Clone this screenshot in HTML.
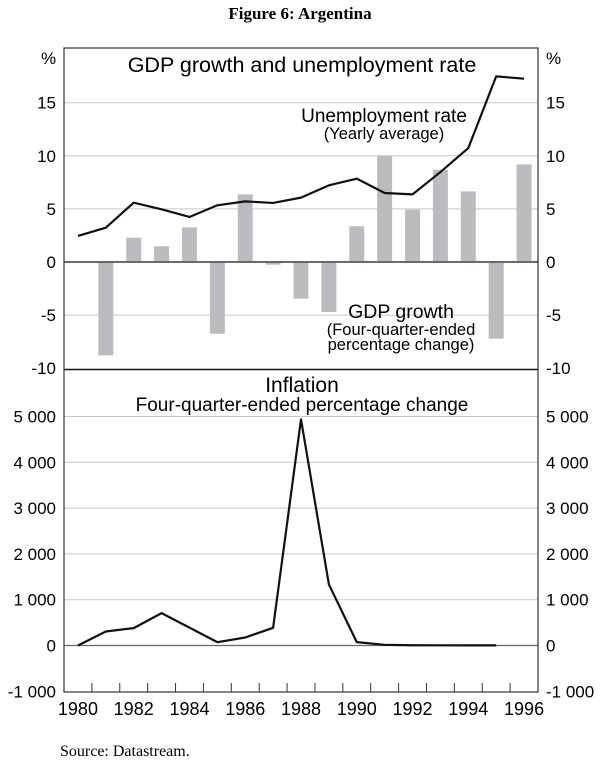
<!DOCTYPE html>
<html><head><meta charset="utf-8"><style>
body{margin:0;background:#fff;}
svg{display:block;font-family:"Liberation Sans",Arial,sans-serif;}
</style></head><body>
<svg id="c" width="600" height="760" viewBox="0 0 600 760">
<text x="300" y="19" text-anchor="middle" font-family="Liberation Serif,serif" font-weight="bold" font-size="17">Figure 6: Argentina</text>
<text x="60" y="756" font-family="Liberation Serif,serif" font-size="16">Source: Datastream.</text>
<g id="g"></g>
</svg>
<script>
const years=[1980,1981,1982,1983,1984,1985,1986,1987,1988,1989,1990,1991,1992,1993,1994,1995,1996];
const unemployment=[2.45,3.23,5.59,4.96,4.24,5.34,5.71,5.56,6.06,7.22,7.85,6.5,6.37,8.47,10.73,17.48,17.26];
const gdpYears=[1981,1982,1983,1984,1985,1986,1987,1988,1989,1990,1991,1992,1993,1994,1995,1996];
const gdpGrowth=[-8.79,2.29,1.48,3.26,-6.75,6.37,-0.25,-3.45,-4.71,3.36,9.98,4.93,8.69,6.65,-7.22,9.2];
const inflYears=[1980,1981,1982,1983,1984,1985,1986,1987,1988,1989,1990,1991,1992,1993,1994,1995];
const inflation=[0,306,380,707,390,73,175,387,4938,1335,73,15,5,4,3,2];
const topTicks=[15,10,5,0,-5,-10];
const botTicks=[5000,4000,3000,2000,1000,0,-1000];
const botTickLabels=["5 000","4 000","3 000","2 000","1 000","0","-1 000"];
const xLabels=[1980,1982,1984,1986,1988,1990,1992,1994,1996];

const L=64,R=538,T=48,MID=369.5,B=692;
const yw=(R-L)/17;
const x=y=>L+(y-1980+0.5)*yw;
const yTop=v=>262-v*10.62;
const yBot=v=>645.5-v*0.0458;
const g=document.getElementById('g');
const NS='http://www.w3.org/2000/svg';
function mk(tag,attrs,parent){const e=document.createElementNS(NS,tag);for(const k in attrs)e.setAttribute(k,attrs[k]);(parent||g).appendChild(e);return e;}
function txt(s,attrs){const e=mk('text',attrs);e.textContent=s;return e;}

topTicks.forEach(v=>{if(v===-10)return;const ln=mk('line',{x1:L,x2:R,y1:yTop(v),y2:yTop(v),stroke:v===0?'#333':'#c8c8c8','stroke-width':v===0?1.2:1});

});
botTicks.forEach(v=>{if(v===-1000)return;const ln=mk('line',{x1:L,x2:R,y1:yBot(v),y2:yBot(v),stroke:v===0?'#666':'#c8c8c8','stroke-width':v===0?1.2:1});

});

gdpYears.forEach((yr,i)=>{const v=gdpGrowth[i];const y0=yTop(0),y1=yTop(v);
const r=mk('rect',{x:x(yr)-7.5,y:Math.min(y0,y1),width:15,height:Math.abs(y1-y0),fill:'#bbbcc0'});

});
mk('line',{x1:L,x2:R,y1:yTop(0),y2:yTop(0),stroke:'#333','stroke-width':1.2});

const u=mk('polyline',{points:years.map((yr,i)=>x(yr)+','+yTop(unemployment[i])).join(' '),fill:'none',stroke:'#111','stroke-width':2.2,'stroke-linejoin':'round'});


const inf=mk('polyline',{points:inflYears.map((yr,i)=>x(yr)+','+yBot(inflation[i])).join(' '),fill:'none',stroke:'#111','stroke-width':2.2,'stroke-linejoin':'round'});



const fr=mk('rect',{x:L,y:T,width:R-L,height:B-T,fill:'none',stroke:'#333','stroke-width':1.2});


mk('line',{x1:L,x2:R,y1:MID,y2:MID,stroke:'#111','stroke-width':1.5});

for(let k=1;k<17;k++){const xx=L+k*yw;mk('line',{x1:xx,x2:xx,y1:B-9,y2:B,stroke:'#333','stroke-width':1});}
xLabels.forEach(yr=>{const t=txt(yr,{x:x(yr),y:B+23,'text-anchor':'middle','font-size':18});

});

topTicks.forEach(v=>{const yy=yTop(v);
const a=txt(v,{x:56,y:yy+6,'text-anchor':'end','font-size':17});


const b=txt(v,{x:546,y:yy+6,'font-size':17});

});
botTicks.forEach((v,i)=>{const yy=yBot(v);
const a=txt(botTickLabels[i],{x:56,y:yy+6,'text-anchor':'end','font-size':17});


const b=txt(botTickLabels[i],{x:546,y:yy+6,'font-size':17});

});
txt('%',{x:41,y:64,'font-size':17});
txt('%',{x:546,y:64,'font-size':17});

txt('GDP growth and unemployment rate',{x:302,y:72,'text-anchor':'middle','font-size':21.5});
txt('Unemployment rate',{x:384,y:122,'text-anchor':'middle','font-size':19});
txt('(Yearly average)',{x:384,y:139,'text-anchor':'middle','font-size':16.5});
txt('GDP growth',{x:401,y:318,'text-anchor':'middle','font-size':19.5});
txt('(Four-quarter-ended',{x:401,y:335,'text-anchor':'middle','font-size':16.5});
txt('percentage change)',{x:401,y:350,'text-anchor':'middle','font-size':16.5});
txt('Inflation',{x:302,y:392,'text-anchor':'middle','font-size':21});
txt('Four-quarter-ended percentage change',{x:302,y:411,'text-anchor':'middle','font-size':19});
</script>
</body></html>
